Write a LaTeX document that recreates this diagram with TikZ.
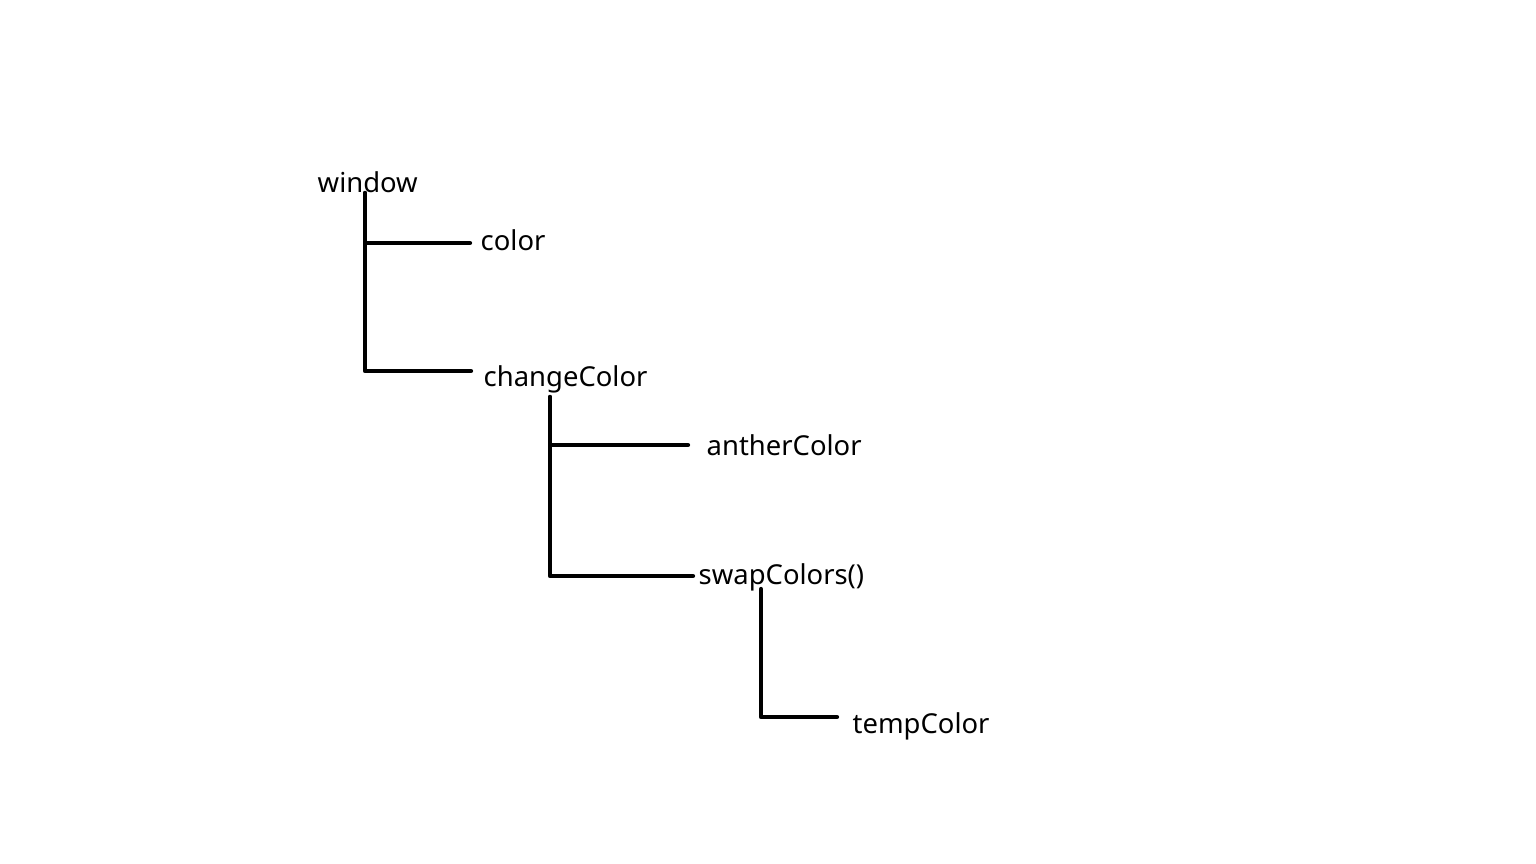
\documentclass[tikz,border=0pt]{standalone}
\usepackage{fontspec}
\setmainfont{Noto Sans}
\usetikzlibrary{calc}
\tikzset{
  lbl/.style={anchor=base west, inner sep=0pt, font=\fontsize{7.8pt}{9pt}\selectfont},
  tree/.style={line width=1.2pt, line cap=round, line join=round}
}
\begin{document}
\begin{tikzpicture}[x=0.01cm, y=-0.01cm]
\useasboundingbox (0,0) rectangle (1536,864);
% labels
\node[lbl] (window) at (317,193) {window};
\node[lbl] (color) at (480,251) {color};
\node[lbl] (change) at (483,387) {changeColor};
\node[lbl] (anther) at (706,456) {antherColor};
\node[lbl] (swap) at (698,584) {swapColors()};
\node[lbl] (temp) at (852,733) {tempColor};
% trunks
\coordinate (t1) at ($(window.base west)+(48,0)$);
\coordinate (t2) at ($(change.base west)+(67,10)$);
\coordinate (t3) at ($(swap.base west)+(63,5)$);
\draw[tree] (t1) |- ($(color.base west)+(-10,-8)$);
\draw[tree] (t1) |- ($(change.base west)+(-12,-16)$);
\draw[tree] (t2) |- ($(anther.base west)+(-18,-11)$);
\draw[tree] (t2) |- ($(swap.base west)+(-5,-8)$);
\draw[tree] (t3) |- ($(temp.base west)+(-15,-16)$);
\end{tikzpicture}
\end{document}
